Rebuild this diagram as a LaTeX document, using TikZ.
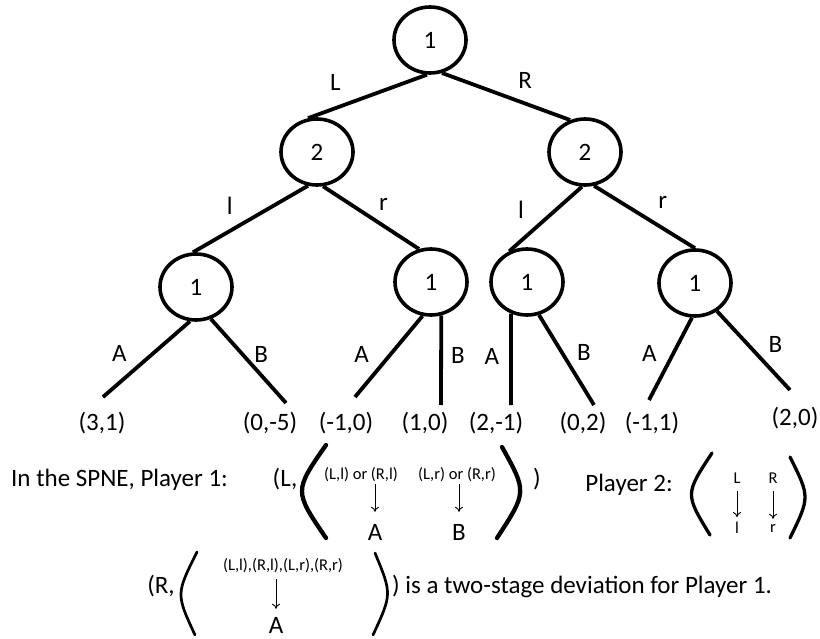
\documentclass[tikz,border=0pt]{standalone}
\usepackage{fontspec}
\setmainfont{Carlito}
\usepackage{tikz}
\usetikzlibrary{shapes, arrows.meta, positioning}

\begin{document}
\begin{tikzpicture}[
                x = 1pt, y = -1pt,
                on grid,
                every node/.style={font=\fontsize{25}{30}\selectfont, inner sep=0pt},
                player/.style={ellipse, draw, line width=3.6pt, minimum width=72pt, minimum height=66pt},
                payoff/.style={},
                small/.style={font=\fontsize{16.5}{20}\selectfont},
                branch/.style={line width=3.8pt},
                maparrow/.style={-{To[length=5pt,width=8pt]}, line width=0.9pt},
                bigparen/.style={line width=4.3pt, line cap=round}
            ]
            \useasboundingbox (0,0) rectangle (820,639);

            \node[player] (root) at (430,40) {1};
            \node[player, below left=112pt and 113pt of root] (L2l) {2};
            \node[player, below right=112pt and 155pt of root] (L2r) {2};
            \node[player, below left=135pt and 121pt of L2l] (n1) {1};
            \node[player, below right=130pt and 114pt of L2l] (n2) {1};
            \node[player, below left=130pt and 58pt of L2r] (n3) {1};
            \node[player, below right=131pt and 110pt of L2r] (n4) {1};

            \draw[branch] (root.265) -- node[pos=.77, above=16pt] {L} (L2l.105);
            \draw[branch] (root.290) -- node[pos=.65, above=13pt] {R} (L2r.115);
            \draw[branch] (L2l.255) -- node[pos=.68, above=15pt] {l} (n1.95);
            \draw[branch] (L2l.280) -- node[pos=.63, above=13pt] {r} (n2.110);
            \draw[branch] (L2r.265) -- node[pos=.84, above=21pt] {l} (n3.120);
            \draw[branch] (L2r.285) -- node[pos=.68, above=18pt] {r} (n4.90);

            \coordinate (e1) at (103,397);
            \coordinate (e2) at (286,403);
            \coordinate (e3) at (355,397);
            \coordinate (e4) at (441,405);
            \coordinate (e5) at (511,405);
            \coordinate (e6) at (594,405);
            \coordinate (e7) at (649,400);
            \coordinate (e8) at (790,390);
            \draw[branch] (n1.260) -- node[pos=.43, left=24pt] {A} (e1);
            \draw[branch] (n1.295) -- node[pos=.42, right=10pt] {B} (e2);
            \draw[branch] (n2.256) -- node[pos=.47, left=20pt] {A} (e3);
            \draw[branch] (n2.287) -- node[pos=.45, right=8pt] {B} (e4);
            \draw[branch] (n3.243) -- node[pos=.47, left=10pt] {A} (e5);
            \draw[branch] (n3.290) -- node[pos=.42, right=13pt] {B} (e6);
            \draw[branch] (n4.265) -- node[pos=.43, left=15pt] {A} (e7);
            \draw[branch] (n4.308) -- node[pos=.42, right=19pt] {B} (e8);

            \node[payoff] (o1) at (102,423) {(3,1)};
            \node[payoff] (o2) at (270,423) {(0,-5)};
            \node[payoff] (o3) at (346,423) {(-1,0)};
            \node[payoff] (o4) at (425,423) {(1,0)};
            \node[payoff] (o5) at (496,423) {(2,-1)};
            \node[payoff] (o6) at (583,423) {(0,2)};
            \node[payoff] (o7) at (652,423) {(-1,1)};
            \node[payoff] (o8) at (795,418) {(2,0)};

            % player 1 in the SPNE
            \node[anchor=base west] (spne) at (11,486) {In the SPNE, Player 1:};
            \node[anchor=base] (open1) at (285,486) {(L,};
            \draw[bigparen] (326,445) .. controls (294,491) .. (326,538);
            \node[small] (s1) at (361,475) {(L,l) or (R,l)};
            \node (a1) at (375,532) {A};
            \node[small] (s2) at (457,475) {(L,r) or (R,r)};
            \node (b1) at (459,532) {B};
            \draw[maparrow, shorten <=2pt, shorten >=12pt] (a1 |- s1.south) -- (a1.north);
            \draw[maparrow, shorten <=2pt, shorten >=12pt] (b1 |- s2.south) -- (b1.north);
            \draw[bigparen] (502,447) .. controls (527,492) .. (497,538);
            \node[anchor=base] (close1) at (537,486) {)};

            % player 2
            \node[anchor=base] (pl2) at (629,491) {Player 2:};
            \draw[bigparen, line width=3.3pt] (712,453) .. controls (685,494) .. (710,535);
            \node[small] (p2L) at (737,478) {L};
            \node[small] (p2l) at (737,528) {l};
            \node[small] (p2R) at (773,478) {R};
            \node[small] (p2r) at (773,528) {r};
            \draw[maparrow, shorten <=8pt, shorten >=5pt] (p2L) -- (p2l);
            \draw[maparrow, shorten <=8pt, shorten >=5pt] (p2R) -- (p2r);
            \draw[bigparen, line width=3.3pt] (790,457) .. controls (810,497) .. (790,538);

            % deviation
            \node[anchor=base] (open2) at (161,593) {(R,};
            \draw[bigparen, line width=2.7pt] (197,552) .. controls (176,594) .. (195,635);
            \node[small] (s3) at (283,566) {(L,l),(R,l),(L,r),(R,r)};
            \node (a3) at (276,625) {A};
            \draw[maparrow, shorten <=6pt, shorten >=8pt] (a3 |- s3.south) -- (a3.north);
            \draw[bigparen, line width=2.7pt] (375,553) .. controls (392,594) .. (373,635);
            \node[anchor=base west] (dev) at (392,593) {) is a two-stage deviation for Player 1.};
        \end{tikzpicture}
\end{document}
